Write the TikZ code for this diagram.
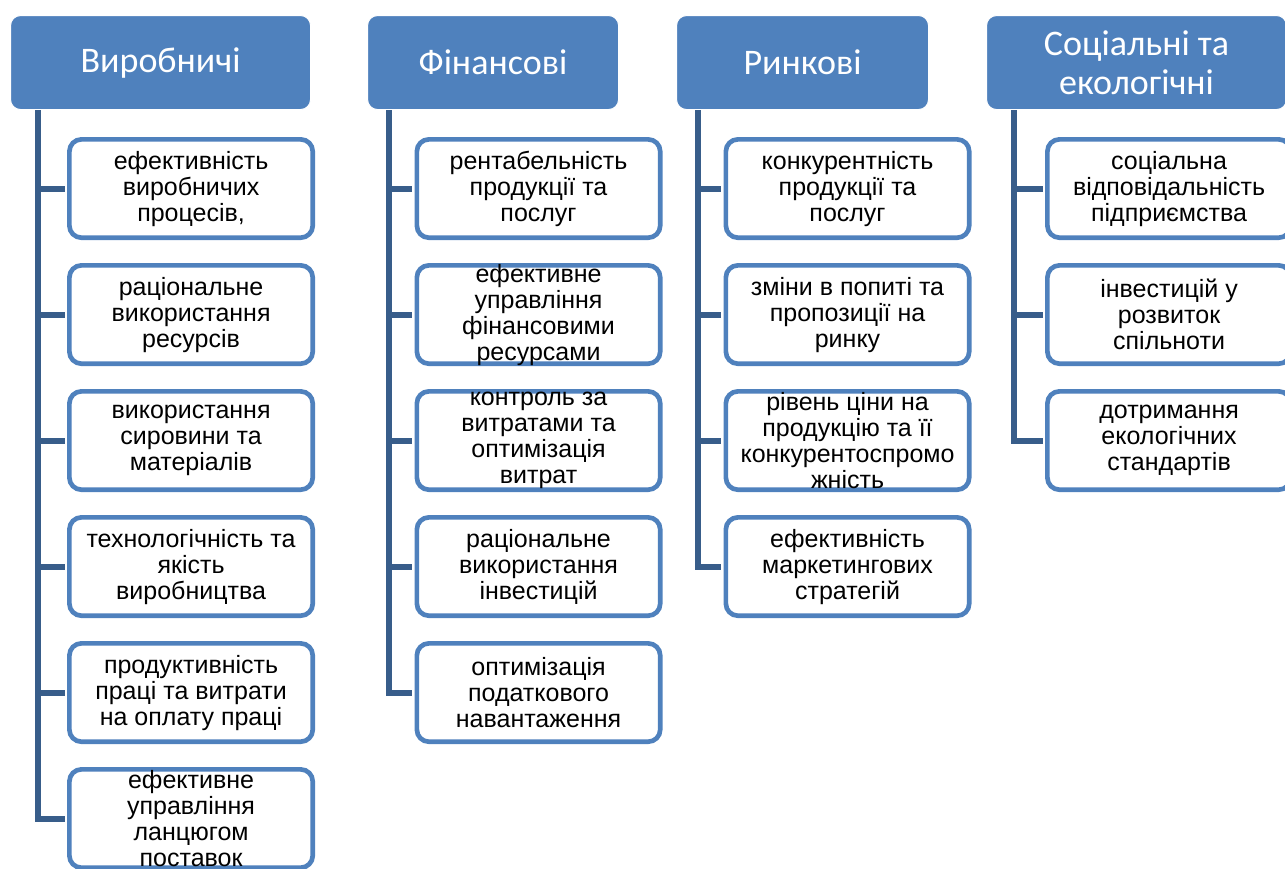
\documentclass[tikz,border=0pt]{standalone}
\usepackage{fontspec}
\setmainfont{Liberation Sans}
\newfontfamily\headfont{Carlito}
\usepackage{xcolor}
\usepackage{tikz}

\definecolor{hdblue}{RGB}{79,129,189}
\definecolor{lnblue}{RGB}{56,93,138}

\begin{document}
\begin{tikzpicture}[node distance=94.5pt, auto,
    head/.style={rectangle, draw=white, line width=0.75pt, fill=hdblue, rounded corners=7.5pt, text=white, minimum height=70.5pt, align=center, font=\headfont\fontsize{27pt}{29pt}\selectfont},
    item/.style={rectangle, draw=hdblue, line width=3.5pt, fill=white, rounded corners=9pt, minimum width=182.5pt, minimum height=73.75pt, inner ysep=-3pt, align=center, font=\fontsize{18.75pt}{19.5pt}\selectfont},
    link/.style={draw=lnblue, line width=4.5pt, shorten >=1.75pt}]

    \useasboundingbox (0,0) rectangle (963.75pt,-651pt);

    \node[head, minimum width=225pt] (prod) at (120.4pt,-46.9pt) {Виробничі};
    \node[head, minimum width=188.25pt, right of=prod, node distance=249.4pt] (fin) {Фінансові};
    \node[head, minimum width=189pt, right of=fin, node distance=232.1pt] (mkt) {Ринкові};
    \node[head, minimum width=225pt, right of=mkt, node distance=250.5pt] (soc) {Соціальні та\\екологічні};

    \node[item, below of=prod, xshift=22.9pt] (prod1) {ефективність\\виробничих\\процесів,};
    \node[item, below of=prod1] (prod2) {раціональне\\використання\\ресурсів};
    \node[item, below of=prod2] (prod3) {використання\\сировини та\\матеріалів};
    \node[item, below of=prod3] (prod4) {технологічність та\\якість\\виробництва};
    \node[item, below of=prod4] (prod5) {продуктивність\\праці та витрати\\на оплату праці};
    \node[item, below of=prod5] (prod6) {ефективне\\управління\\ланцюгом\\поставок};

    \node[item, below of=fin, xshift=34.1pt] (fin1) {рентабельність\\продукції та\\послуг};
    \node[item, below of=fin1] (fin2) {ефективне\\управління\\фінансовими\\ресурсами};
    \node[item, below of=fin2] (fin3) {контроль за\\витратами та\\оптимізація\\витрат};
    \node[item, below of=fin3] (fin4) {раціональне\\використання\\інвестицій};
    \node[item, below of=fin4] (fin5) {оптимізація\\податкового\\навантаження};

    \node[item, below of=mkt, xshift=33.75pt] (mkt1) {конкурентність\\продукції та\\послуг};
    \node[item, below of=mkt1] (mkt2) {зміни в попиті та\\пропозиції на\\ринку};
    \node[item, below of=mkt2] (mkt3) {рівень ціни на\\продукцію та її\\конкурентоспромо\\жність};
    \node[item, below of=mkt3] (mkt4) {ефективність\\маркетингових\\стратегій};

    \node[item, below of=soc, xshift=24.4pt] (soc1) {соціальна\\відповідальність\\підприємства};
    \node[item, below of=soc1] (soc2) {інвестицій у\\розвиток\\спільноти};
    \node[item, below of=soc2] (soc3) {дотримання\\екологічних\\стандартів};

    % trunks under the headers
    \coordinate (prodT) at ([xshift=21.2pt]prod.south west);
    \coordinate (finT) at ([xshift=16.5pt]fin.south west);
    \coordinate (mktT) at ([xshift=16.5pt]mkt.south west);
    \coordinate (socT) at ([xshift=21.2pt]soc.south west);

    \draw[link] (prodT) |- (prod1.west);
    \draw[link] (prodT) |- (prod2.west);
    \draw[link] (prodT) |- (prod3.west);
    \draw[link] (prodT) |- (prod4.west);
    \draw[link] (prodT) |- (prod5.west);
    \draw[link] (prodT) |- (prod6.west);

    \draw[link] (finT) |- (fin1.west);
    \draw[link] (finT) |- (fin2.west);
    \draw[link] (finT) |- (fin3.west);
    \draw[link] (finT) |- (fin4.west);
    \draw[link] (finT) |- (fin5.west);

    \draw[link] (mktT) |- (mkt1.west);
    \draw[link] (mktT) |- (mkt2.west);
    \draw[link] (mktT) |- (mkt3.west);
    \draw[link] (mktT) |- (mkt4.west);

    \draw[link] (socT) |- (soc1.west);
    \draw[link] (socT) |- (soc2.west);
    \draw[link] (socT) |- (soc3.west);
\end{tikzpicture}
\end{document}
